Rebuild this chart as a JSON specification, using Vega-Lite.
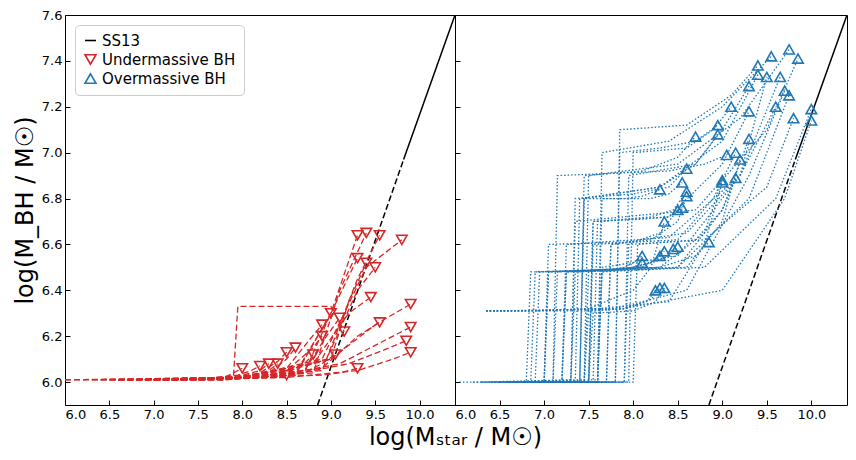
{
  "$schema": "https://vega.github.io/schema/vega-lite/v6.json",
  "padding": {"left": 12, "top": 8, "right": 5, "bottom": 5},
  "bounds": "flush",
  "datasets": {
    "ss13": [
      {"seg": "dash", "x": 8.85, "y": 5.9}, {"seg": "dash", "x": 9.82, "y": 6.97},
      {"seg": "solid", "x": 9.82, "y": 6.97}, {"seg": "solid", "x": 10.4, "y": 7.6}
    ],
    "red": [
      {"id": "r1", "x": [6.0,7.5,8.6,9.0,9.3], "y": [6.01,6.01,6.03,6.3,6.64]},
      {"id": "r2", "x": [6.5,7.8,8.8,9.1,9.4], "y": [6.01,6.01,6.04,6.4,6.65]},
      {"id": "r3", "x": [7.0,8.0,8.9,9.3,9.55], "y": [6.01,6.02,6.05,6.45,6.64]},
      {"id": "r4", "x": [6.8,8.0,8.9,9.4,9.8], "y": [6.01,6.02,6.1,6.5,6.62]},
      {"id": "r5", "x": [6.6,7.8,8.7,9.0,9.3], "y": [6.01,6.01,6.04,6.3,6.54]},
      {"id": "r6", "x": [6.0,8.0,9.0,9.2,9.4], "y": [6.01,6.02,6.1,6.35,6.52]},
      {"id": "r7", "x": [7.2,8.2,8.95,9.3,9.5], "y": [6.01,6.02,6.1,6.4,6.5]},
      {"id": "r8", "x": [6.7,8.0,8.8,9.2,9.45], "y": [6.01,6.02,6.08,6.3,6.37]},
      {"id": "r9", "x": [7.0,8.2,9.0,9.5,9.9], "y": [6.01,6.02,6.1,6.25,6.34]},
      {"id": "r10", "x": [6.9,8.0,8.9,9.3,9.55], "y": [6.01,6.02,6.06,6.2,6.26]},
      {"id": "r11", "x": [7.3,8.3,9.1,9.6,9.9], "y": [6.01,6.02,6.08,6.18,6.24]},
      {"id": "r12", "x": [6.5,7.9,7.95,9.0,9.15], "y": [6.01,6.02,6.33,6.33,6.22]},
      {"id": "r13", "x": [6.3,7.9,8.6,8.85,9.0], "y": [6.01,6.02,6.04,6.2,6.3]},
      {"id": "r14", "x": [6.9,8.1,8.7,8.95,9.1], "y": [6.01,6.02,6.05,6.2,6.28]},
      {"id": "r15", "x": [6.6,7.9,8.5,8.8,8.9], "y": [6.01,6.02,6.05,6.15,6.2]},
      {"id": "r16", "x": [7.1,8.0,8.5,8.75,8.9], "y": [6.01,6.02,6.06,6.18,6.25]},
      {"id": "r17", "x": [7.5,8.4,9.2,9.6,9.85], "y": [6.01,6.02,6.08,6.14,6.18]},
      {"id": "r18", "x": [7.2,8.5,9.3,9.7,9.9], "y": [6.01,6.02,6.05,6.1,6.13]},
      {"id": "r19", "x": [6.8,8.0,8.9,9.1,9.3], "y": [6.01,6.02,6.03,6.04,6.06]},
      {"id": "r20", "x": [7.0,8.1,8.7,8.9,9.05], "y": [6.01,6.02,6.04,6.08,6.12]},
      {"id": "r21", "x": [6.4,7.8,8.5,8.7,8.8], "y": [6.01,6.02,6.04,6.08,6.12]},
      {"id": "r22", "x": [6.7,7.9,8.3,8.5,8.6], "y": [6.01,6.02,6.04,6.1,6.15]},
      {"id": "r23", "x": [7.2,7.9,8.2,8.4,8.5], "y": [6.01,6.02,6.04,6.09,6.13]},
      {"id": "r24", "x": [6.9,7.8,8.1,8.3,8.4], "y": [6.01,6.02,6.03,6.05,6.08]},
      {"id": "r25", "x": [7.0,7.7,8.0,8.2,8.3], "y": [6.01,6.02,6.03,6.05,6.08]},
      {"id": "r26", "x": [7.3,7.7,7.95,8.1,8.2], "y": [6.01,6.02,6.03,6.05,6.07]},
      {"id": "r27", "x": [7.1,7.6,7.8,7.9,8.0], "y": [6.01,6.01,6.02,6.04,6.06]},
      {"id": "r28", "x": [6.6,7.8,8.2,8.4,8.5], "y": [6.01,6.01,6.02,6.02,6.03]}
    ],
    "blue": [
      {"id": "b1", "x": [6.5,7.45,7.5,8.5,9.2,9.75], "y": [6.0,6.01,6.9,6.95,7.15,7.45]},
      {"id": "b2", "x": [6.8,7.6,7.65,8.4,9.0,9.55], "y": [6.0,6.0,7.0,7.05,7.2,7.42]},
      {"id": "b3", "x": [6.3,7.3,7.35,8.7,9.5,9.85], "y": [6.0,6.01,6.7,6.75,7.1,7.41]},
      {"id": "b4", "x": [6.9,7.8,7.85,8.6,9.1,9.4], "y": [6.0,6.0,7.1,7.12,7.25,7.38]},
      {"id": "b5", "x": [6.6,7.4,7.45,8.3,9.0,9.4], "y": [6.0,6.0,6.8,6.85,7.05,7.34]},
      {"id": "b6", "x": [6.7,7.6,7.65,8.5,9.2,9.5], "y": [6.0,6.01,6.5,6.55,6.9,7.33]},
      {"id": "b7", "x": [6.4,7.2,7.25,8.4,9.2,9.65], "y": [6.0,6.0,6.6,6.63,6.9,7.33]},
      {"id": "b8", "x": [7.0,7.9,7.95,8.7,9.0,9.3], "y": [6.0,6.0,6.9,6.95,7.1,7.29]},
      {"id": "b9", "x": [6.35,6.5,7.8,8.6,9.3,9.7], "y": [6.31,6.31,6.32,6.4,6.9,7.27]},
      {"id": "b10", "x": [6.05,7.1,7.15,8.5,9.3,9.75], "y": [6.0,6.0,6.48,6.5,6.8,7.25]},
      {"id": "b11", "x": [6.9,7.7,7.75,8.6,9.2,9.6], "y": [6.0,6.0,6.6,6.65,6.9,7.2]},
      {"id": "b12", "x": [7.1,7.95,8.0,8.6,8.9,9.1], "y": [6.0,6.0,7.0,7.02,7.1,7.2]},
      {"id": "b13", "x": [6.6,7.5,7.55,8.4,9.0,9.3], "y": [6.0,6.0,6.7,6.72,6.95,7.18]},
      {"id": "b14", "x": [6.5,7.3,7.35,8.8,9.6,10.0], "y": [6.0,6.0,6.48,6.5,6.8,7.19]},
      {"id": "b15", "x": [6.35,6.6,7.9,9.0,9.7,10.0], "y": [6.31,6.31,6.32,6.4,6.8,7.14]},
      {"id": "b16", "x": [7.2,7.9,7.95,8.8,9.5,9.8], "y": [6.0,6.0,6.6,6.62,6.85,7.15]},
      {"id": "b17", "x": [7.3,7.8,7.85,8.3,8.7,8.95], "y": [6.0,6.0,7.0,7.02,7.05,7.12]},
      {"id": "b18", "x": [6.8,7.35,7.4,8.3,8.7,8.95], "y": [6.0,6.0,6.8,6.85,6.95,7.08]},
      {"id": "b19", "x": [6.9,7.4,7.45,8.1,8.5,8.7], "y": [6.0,6.0,6.9,6.92,6.98,7.07]},
      {"id": "b20", "x": [6.4,7.2,7.25,8.5,9.0,9.3], "y": [6.0,6.0,6.48,6.5,6.75,7.06]},
      {"id": "b21", "x": [6.7,7.5,7.55,8.5,8.9,9.15], "y": [6.0,6.0,6.6,6.62,6.8,7.0]},
      {"id": "b22", "x": [7.0,7.6,7.65,8.6,9.0,9.2], "y": [6.0,6.0,6.48,6.5,6.7,6.97]},
      {"id": "b23", "x": [6.9,7.1,7.15,8.4,8.8,9.05], "y": [6.0,6.0,6.9,6.92,6.95,6.99]},
      {"id": "b24", "x": [6.8,7.3,7.35,8.0,8.4,8.6], "y": [6.0,6.0,6.8,6.82,6.85,6.93]},
      {"id": "b25", "x": [6.3,7.0,7.05,8.3,8.8,9.0], "y": [6.0,6.0,6.48,6.5,6.65,6.88]},
      {"id": "b26", "x": [6.35,6.8,7.6,8.4,8.8,9.0], "y": [6.31,6.31,6.32,6.35,6.6,6.87]},
      {"id": "b27", "x": [7.4,8.0,8.05,8.7,9.0,9.15], "y": [6.0,6.0,6.6,6.62,6.75,6.89]},
      {"id": "b28", "x": [6.6,7.6,7.65,8.2,8.4,8.55], "y": [6.0,6.0,6.8,6.8,6.82,6.87]},
      {"id": "b29", "x": [7.5,7.55,7.6,8.2,8.45,8.6], "y": [6.0,6.0,6.7,6.72,6.75,6.83]},
      {"id": "b30", "x": [7.2,7.4,7.45,7.9,8.1,8.3], "y": [6.0,6.0,6.8,6.8,6.81,6.84]},
      {"id": "b31", "x": [7.6,7.7,7.75,8.2,8.5,8.6], "y": [6.0,6.0,6.6,6.62,6.7,6.81]},
      {"id": "b32", "x": [7.3,7.5,7.55,8.1,8.4,8.55], "y": [6.0,6.0,6.7,6.71,6.72,6.76]},
      {"id": "b33", "x": [6.9,7.0,7.05,8.0,8.3,8.5], "y": [6.0,6.0,6.6,6.61,6.65,6.75]},
      {"id": "b34", "x": [6.35,6.9,7.5,8.0,8.2,8.35], "y": [6.31,6.31,6.32,6.4,6.5,6.7]},
      {"id": "b35", "x": [6.2,6.9,6.95,8.3,8.7,8.85], "y": [6.0,6.0,6.48,6.5,6.55,6.61]},
      {"id": "b36", "x": [7.3,7.45,7.5,8.0,8.3,8.45], "y": [6.0,6.0,6.48,6.5,6.53,6.58]},
      {"id": "b37", "x": [7.0,7.2,7.25,8.0,8.35,8.5], "y": [6.0,6.0,6.48,6.5,6.54,6.59]},
      {"id": "b38", "x": [6.6,6.85,6.9,7.9,8.2,8.35], "y": [6.0,6.0,6.48,6.49,6.52,6.57]},
      {"id": "b39", "x": [6.5,7.0,7.05,7.8,8.1,8.3], "y": [6.0,6.0,6.48,6.49,6.5,6.55]},
      {"id": "b40", "x": [7.5,7.6,7.65,7.9,8.0,8.1], "y": [6.0,6.0,6.48,6.5,6.52,6.55]},
      {"id": "b41", "x": [6.7,6.8,6.85,7.8,8.0,8.1], "y": [6.0,6.0,6.48,6.49,6.5,6.52]},
      {"id": "b42", "x": [6.35,7.0,7.5,7.9,8.2,8.3], "y": [6.31,6.31,6.31,6.32,6.36,6.41]},
      {"id": "b43", "x": [7.4,7.5,7.55,8.0,8.25,8.35], "y": [6.0,6.0,6.3,6.31,6.35,6.41]},
      {"id": "b44", "x": [7.1,7.45,7.5,7.9,8.15,8.25], "y": [6.0,6.0,6.31,6.32,6.35,6.4]}
    ]
  },
  "spacing": 0,
  "hconcat": [
    {
      "width": 390,
      "height": 390,
      "layer": [
        {
          "data": {"name": "ss13"},
          "mark": {"type": "line", "color": "black", "strokeWidth": 1.5, "clip": true},
          "encoding": {
            "x": {"field": "x", "type": "quantitative", "scale": {"domain": [6, 10.4], "nice": false}},
            "y": {"field": "y", "type": "quantitative", "scale": {"domain": [5.9, 7.6], "nice": false}},
            "detail": {"field": "seg"},
            "strokeDash": {"field": "seg", "type": "nominal", "scale": {"domain": ["dash", "solid"], "range": [[6, 3], [1, 0]]}, "legend": null}
          }
        },
        {
          "data": {"name": "red"},
          "transform": [{"flatten": ["x", "y"]}],
          "mark": {"type": "line", "color": "#d62728", "strokeWidth": 1.3, "strokeDash": [6, 3], "clip": true},
          "encoding": {
            "x": {"field": "x", "type": "quantitative", "scale": {"domain": [6, 10.4], "nice": false}},
            "y": {"field": "y", "type": "quantitative", "scale": {"domain": [5.9, 7.6], "nice": false}},
            "detail": {"field": "id"}
          }
        },
        {
          "data": {"name": "red"},
          "transform": [
            {"flatten": ["x", "y"]},
            {"joinaggregate": [{"op": "max", "field": "x", "as": "mx"}], "groupby": ["id"]},
            {"filter": "datum.x == datum.mx"},
            {"calculate": "'Undermassive BH'", "as": "series"}
          ],
          "mark": {"type": "point", "filled": false, "size": 110, "strokeWidth": 1.6, "opacity": 1},
          "encoding": {
            "x": {"field": "x", "type": "quantitative", "scale": {"domain": [6, 10.4], "nice": false},
              "axis": {"values": [6, 6.5, 7, 7.5, 8, 8.5, 9, 9.5, 10], "format": ".1f", "title": "log(Mₛₜₐᵣ / M☉)", "titleX": 390}},
            "y": {"field": "y", "type": "quantitative", "scale": {"domain": [5.9, 7.6], "nice": false},
              "axis": {"values": [6, 6.2, 6.4, 6.6, 6.8, 7, 7.2, 7.4, 7.6], "format": ".1f", "title": "log(M_BH / M☉)"}},
            "color": {"field": "series", "type": "nominal",
              "scale": {"domain": ["SS13", "Undermassive BH", "Overmassive BH"], "range": ["black", "#d62728", "#1f77b4"]}},
            "shape": {"field": "series", "type": "nominal",
              "scale": {"domain": ["SS13", "Undermassive BH", "Overmassive BH"], "range": ["stroke", "triangle-down", "triangle-up"]}}
          }
        }
      ]
    },
    {
      "width": 392,
      "height": 390,
      "layer": [
        {
          "data": {"name": "ss13"},
          "mark": {"type": "line", "color": "black", "strokeWidth": 1.5, "clip": true},
          "encoding": {
            "x": {"field": "x", "type": "quantitative", "scale": {"domain": [6, 10.4], "nice": false}},
            "y": {"field": "y", "type": "quantitative", "scale": {"domain": [5.9, 7.6], "nice": false}},
            "detail": {"field": "seg"},
            "strokeDash": {"field": "seg", "type": "nominal", "scale": {"domain": ["dash", "solid"], "range": [[6, 3], [1, 0]]}, "legend": null}
          }
        },
        {
          "data": {"name": "blue"},
          "transform": [{"flatten": ["x", "y"]}],
          "mark": {"type": "line", "color": "#1f77b4", "strokeWidth": 1.3, "strokeDash": [1.5, 2], "clip": true},
          "encoding": {
            "x": {"field": "x", "type": "quantitative", "scale": {"domain": [6, 10.4], "nice": false}},
            "y": {"field": "y", "type": "quantitative", "scale": {"domain": [5.9, 7.6], "nice": false}},
            "detail": {"field": "id"}
          }
        },
        {
          "data": {"name": "blue"},
          "transform": [
            {"flatten": ["x", "y"]},
            {"joinaggregate": [{"op": "max", "field": "x", "as": "mx"}], "groupby": ["id"]},
            {"filter": "datum.x == datum.mx"},
            {"calculate": "'Overmassive BH'", "as": "series"}
          ],
          "mark": {"type": "point", "filled": false, "size": 110, "strokeWidth": 1.6, "opacity": 1},
          "encoding": {
            "x": {"field": "x", "type": "quantitative", "scale": {"domain": [6, 10.4], "nice": false},
              "axis": {"values": [6, 6.5, 7, 7.5, 8, 8.5, 9, 9.5, 10], "format": ".1f", "title": null}},
            "y": {"field": "y", "type": "quantitative", "scale": {"domain": [5.9, 7.6], "nice": false},
              "axis": {"values": [6, 6.2, 6.4, 6.6, 6.8, 7, 7.2, 7.4, 7.6], "labels": false, "title": null}},
            "color": {"field": "series", "type": "nominal",
              "scale": {"domain": ["SS13", "Undermassive BH", "Overmassive BH"], "range": ["black", "#d62728", "#1f77b4"]}},
            "shape": {"field": "series", "type": "nominal",
              "scale": {"domain": ["SS13", "Undermassive BH", "Overmassive BH"], "range": ["stroke", "triangle-down", "triangle-up"]}}
          }
        }
      ]
    }
  ],
  "resolve": {"legend": {"color": "shared", "shape": "shared"}},
  "config": {
    "font": "DejaVu Sans",
    "view": {"stroke": "black", "strokeWidth": 1},
    "axis": {"grid": false, "domain": false, "tickSize": -5, "tickColor": "black", "labelFontSize": 13, "labelColor": "black",
      "labelPadding": 8, "titleFontSize": 24, "titleFontWeight": "normal", "titleColor": "black"},
    "legend": {"orient": "none", "legendX": 10, "legendY": 10, "title": null, "labelFontSize": 15, "symbolSize": 120,
      "symbolStrokeWidth": 1.6, "fillColor": "white", "strokeColor": "#cccccc", "padding": 8, "cornerRadius": 4, "labelColor": "black"}
  }
}
